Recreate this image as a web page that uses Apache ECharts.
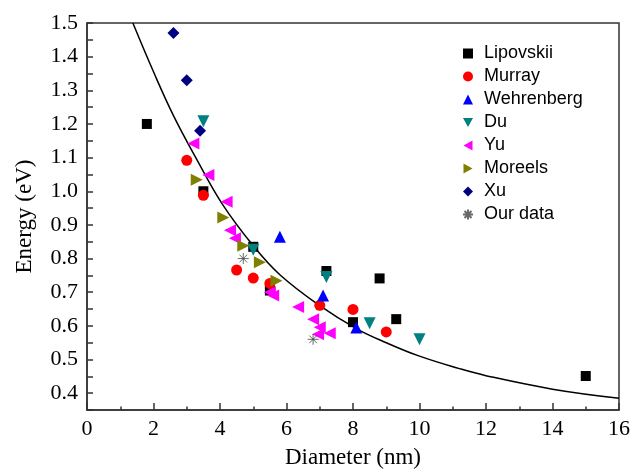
<!DOCTYPE html>
<html>
<head>
<meta charset="utf-8">
<script src="https://cdn.jsdelivr.net/npm/echarts@6/dist/echarts.min.js"></script>
<style>
  html, body { margin: 0; padding: 0; background: #fff; }
  #chart { width: 633px; height: 474px; }
</style>
</head>
<body>
<div id="chart"></div>
<script>
// data: [diameter nm, energy eV]
const lipovskii = [[1.8, 1.2], [3.5, 1.0], [5.0, 0.835], [5.5, 0.705], [7.2, 0.763], [8.0, 0.611], [8.8, 0.741], [9.3, 0.62], [15, 0.451]];
const murray = [[3.0, 1.092], [3.5, 0.988], [4.5, 0.766], [5.0, 0.742], [5.5, 0.726], [7.0, 0.661], [8.0, 0.649], [9.0, 0.582]];
const wehrenberg = [[5.8, 0.865], [7.1, 0.69], [8.1, 0.595]];
const du = [[3.5, 1.208], [5.0, 0.826], [7.2, 0.745], [8.5, 0.608], [10.0, 0.56]];
const yu = [[3.2, 1.142], [3.65, 1.048], [4.2, 0.969], [4.3, 0.884], [4.45, 0.86], [5.5, 0.7], [5.6, 0.69], [6.35, 0.656], [6.8, 0.62], [7.0, 0.596], [6.95, 0.575], [7.3, 0.578]];
const moreels = [[3.3, 1.034], [4.1, 0.922], [4.7, 0.838], [5.2, 0.789], [5.7, 0.734]];
const xu = [[2.6, 1.47], [3.0, 1.33], [3.4, 1.18]];
const ourData = [[4.7, 0.8], [6.8, 0.56]];
// fitted curve, points
const fitCurve = [[1.38, 1.5], [2.0, 1.355], [2.6, 1.225], [3.3, 1.095], [4.05, 0.965], [5.0, 0.838], [5.8, 0.752], [7.0, 0.66], [8.1, 0.592], [9.0, 0.55], [10, 0.51], [11.2, 0.473], [12, 0.452], [14, 0.412], [16, 0.385]];

const legendNames = ['Lipovskii', 'Murray', 'Wehrenberg', 'Du', 'Yu', 'Moreels', 'Xu', 'Our data'];

const serif = '"Liberation Serif", "Times New Roman", serif';
const sans = '"Liberation Sans", Arial, sans-serif';

function scatter(name, data, symbol, size, color) {
	return {
		name: name,
		type: 'scatter',
		data: data,
		symbol: symbol,
		symbolSize: size,
		itemStyle: { color: color, opacity: 1 },
		z: 3,
	};
}

const chart = echarts.init(document.getElementById('chart'));

const option = {
	backgroundColor: '#fff',
	animation: false,
	grid: {
		left: 87,
		right: 13,
		top: 23,
		bottom: 56,
		show: true,
		borderColor: '#333',
		borderWidth: 1.5,
	},
	legend: {
		data: legendNames,
		orient: 'vertical',
		left: 462,
		top: 42,
		padding: 0,
		itemGap: 0,
		itemWidth: 10,
		itemHeight: 10,
		textStyle: { fontFamily: sans, fontSize: 18, color: '#000', lineHeight: 23, padding: [0, 0, 0, 6] },
	},
	xAxis: {
		type: 'value',
		min: 0,
		max: 16,
		interval: 2,
		name: 'Diameter (nm)',
		nameLocation: 'middle',
		nameGap: 36,
		nameTextStyle: { fontFamily: serif, fontSize: 23, color: '#000' },
		axisLine: { show: true, lineStyle: { color: '#333', width: 1.5 } },
		axisTick: { show: true, inside: true, length: 7, lineStyle: { color: '#333', width: 1.5 } },
		minorTick: { show: true, splitNumber: 2, length: 3.5, lineStyle: { color: '#333', width: 1.5 } },
		axisLabel: { fontFamily: serif, fontSize: 22, color: '#000', margin: 8 },
		splitLine: { show: false },
	},
	yAxis: {
		type: 'value',
		min: 0.35,
		max: 1.5,
		interval: 0.05,
		name: 'Energy (eV)',
		nameLocation: 'middle',
		nameGap: 51,
		nameTextStyle: { fontFamily: serif, fontSize: 23, color: '#000' },
		axisLine: { show: true, lineStyle: { color: '#333', width: 1.5 } },
		axisTick: { show: true, inside: true, length: 6, lineStyle: { color: '#333', width: 1.5 } },
		axisLabel: {
			fontFamily: serif,
			fontSize: 22,
			color: '#000',
			margin: 9,
			formatter: function (v) {
				const r = Math.round(v * 100);
				return r % 10 === 0 ? (r / 100).toFixed(1) : '';
			},
		},
		splitLine: { show: false },
	},
	series: [
		{
			name: 'fit',
			type: 'line',
			data: fitCurve,
			smooth: 0.4,
			symbol: 'none',
			lineStyle: { color: '#000', width: 1.5 },
			z: 2,
		},
		scatter('Lipovskii', lipovskii, 'rect', 10, '#000000'),
		scatter('Murray', murray, 'circle', 11, '#ff0000'),
		scatter('Wehrenberg', wehrenberg, 'triangle', 12, '#0000ff'),
		scatter('Du', du, 'path://M0,0L10,0L5,9Z', 12, '#008080'),
		scatter('Yu', yu, 'path://M0,5L9,0L9,10Z', 12, '#ff00ff'),
		scatter('Moreels', moreels, 'path://M9,5L0,0L0,10Z', 12, '#808000'),
		scatter('Xu', xu, 'diamond', 12, '#000080'),
		{
			name: 'Our data',
			type: 'scatter',
			data: ourData,
			symbol: 'path://M5,0L5,10M0,5L10,5M1.5,1.5L8.5,8.5M1.5,8.5L8.5,1.5',
			symbolSize: 11,
			itemStyle: { color: 'transparent', borderColor: '#444', borderWidth: 1 },
			z: 3,
		},
	],
};

chart.setOption(option);
</script>
</body>
</html>
